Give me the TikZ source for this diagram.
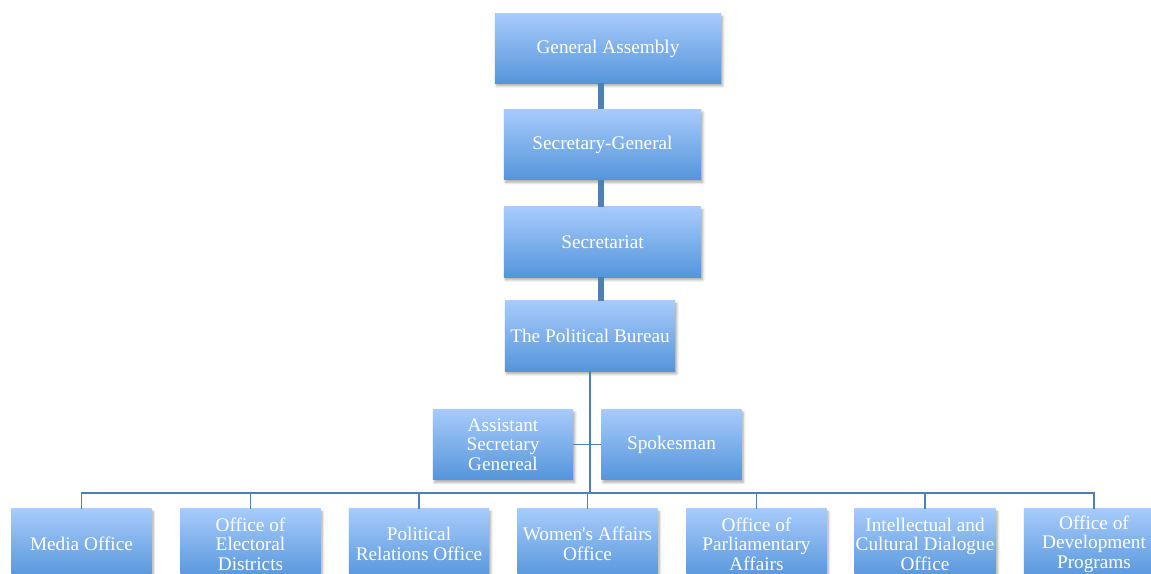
\documentclass[tikz,border=0pt]{standalone}
\usepackage{fontspec}
\setmainfont{Liberation Serif}
\usetikzlibrary{shadows,shadows.blur,positioning,calc}
\usepackage{xcolor}
\definecolor{boxtop}{HTML}{A7CBFB}
\definecolor{boxbot}{HTML}{5595DB}
\definecolor{linkcol}{HTML}{4F7FB5}

\begin{document}
\begin{tikzpicture}[
  x=0.025cm,y=-0.025cm,
  bx/.style={rectangle,font=\fontsize{13.7}{13.8}\selectfont,top color=boxtop, bottom color=boxbot,
    text=white,align=center,inner sep=1pt,
    blur shadow={shadow xshift=1.2pt,shadow yshift=-2pt,shadow blur steps=6,shadow opacity=35}},
  ga/.style={bx,minimum width=5.65cm,minimum height=1.725cm},
  sg/.style={bx,minimum width=4.925cm,minimum height=1.75cm},
  pb/.style={bx,minimum width=4.25cm,minimum height=1.75cm},
  sm/.style={bx,minimum width=3.5cm,minimum height=1.75cm},
  thk/.style={linkcol,line width=4.2pt},
  thn/.style={linkcol,line width=1.4pt},
  ]
  \clip (0,0) rectangle (1151,573);

  \node at (608,48.5) [ga] (gassembly) {General Assembly};
  \node at (602.5,144.5) [sg] (secgen) {Secretary-General};
  \node at (602.5,242) [sg] (secretariat) {Secretariat};
  \node at (590,336) [pb] (bureau) {The Political Bureau};

  \node at (503,444.5) [sm] (assistant) {Assistant\\Secretary\\Genereal};
  \node at (671.5,444.5) [sm] (spokesman) {Spokesman};

  \node at (81.5,544) [sm] (media) {Media Office};
  \node at (250.5,544) [sm] (electoral) {Office of\\Electoral\\Districts};
  \node at (419,544) [sm] (relations) {Political\\Relations Office};
  \node at (587.5,544) [sm] (women) {Women\textquotesingle s Affairs\\Office};
  \node at (756.5,544) [sm] (parliament) {Office of\\Parliamentary\\Affairs};
  \node at (925,544) [sm] (dialogue) {Intellectual and\\Cultural Dialogue\\Office};
  \node at (1094,544) [sm] (develop) {Office of\\Development\\Programs};

  \coordinate (bus) at (590,493);

  \draw[thk] (gassembly.south -| 601,0) -- (secgen.north -| 601,0);
  \draw[thk] (secgen.south -| 601,0) -- (secretariat.north -| 601,0);
  \draw[thk] (secretariat.south -| 601,0) -- (bureau.north -| 601,0);

  \draw[thn] (bureau.south) -- (bus);
  \draw[thn] (assistant.east) -- (spokesman.west);
  \draw[thn] (media.north) |- (bus) -| (develop.north);
  \draw[thn] (electoral.north) -- (electoral.north |- bus);
  \draw[thn] (relations.north) -- (relations.north |- bus);
  \draw[thn] (women.north) -- (women.north |- bus);
  \draw[thn] (parliament.north) -- (parliament.north |- bus);
  \draw[thn] (dialogue.north) -- (dialogue.north |- bus);

\end{tikzpicture}
\end{document}
